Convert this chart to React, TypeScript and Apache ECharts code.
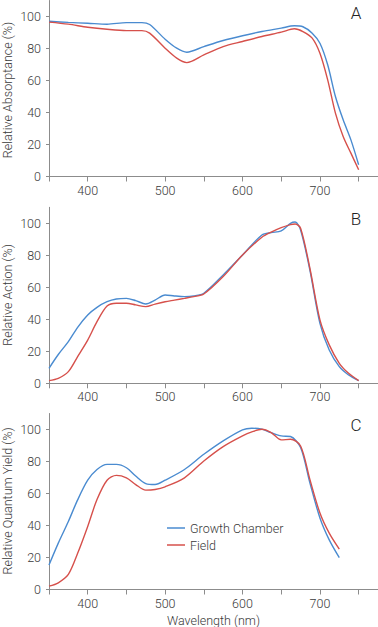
import React, { useEffect, useRef } from "react";
import * as echarts from "echarts";

const absWl = [350, 375, 400, 425, 450, 470, 480, 500, 515, 528, 550, 575, 600, 625, 650, 667, 678, 690, 700, 710, 720, 730, 740, 750];
const absGrowth = [97, 96.3, 95.8, 95.2, 96.2, 96.2, 95, 85.8, 80.2, 77.7, 81.2, 85, 88, 90.6, 92.7, 94.2, 93.6, 89.6, 83.3, 69.8, 50, 35.4, 22.9, 7.3];
const absField = [96.5, 95.2, 93.3, 92, 91.2, 91.2, 89.6, 80.2, 74, 71.2, 76, 81.2, 84.4, 87.5, 90.2, 92.3, 90.6, 86.5, 77, 60.4, 39.6, 25, 14.6, 4.2];

const actWl = [350, 362, 375, 387, 400, 412, 425, 437, 450, 462, 475, 487, 500, 512, 525, 537, 550, 575, 600, 625, 637, 650, 662, 668, 675, 687, 700, 712, 725, 737, 750];
const actGrowth = [9.4, 18, 26, 35, 42.7, 47.5, 51, 52.7, 53.1, 51.7, 49.6, 52, 55.2, 54.6, 54.2, 54.6, 56.3, 67.7, 80.2, 92.7, 94.2, 95.2, 100, 100.8, 95.8, 70.8, 37.5, 20.8, 10.4, 5.2, 1.7];
const actField = [1.7, 3.1, 7.3, 16.7, 27, 38.5, 48.3, 50, 50, 49, 47.9, 49.5, 51, 52, 53.1, 54.2, 55.8, 66.7, 80.2, 91.3, 94.5, 97.3, 99.2, 99.6, 96.9, 71.9, 39.6, 24, 12.5, 6.25, 1.7];

const qyWl = [350, 362, 375, 387, 400, 412, 425, 437, 450, 462, 475, 487, 500, 525, 550, 575, 600, 612, 625, 637, 650, 662, 675, 687, 700, 712, 725];
const qyGrowth = [15.3, 29, 42.5, 56, 68.3, 75, 78.2, 78.2, 76.1, 70.9, 66.2, 65.6, 68.3, 75, 84.5, 92.9, 99.8, 100.8, 100.2, 98, 96, 95.6, 88.7, 66.7, 44.7, 31, 19.9];
const qyField = [2.1, 4.2, 9.4, 22.6, 39.4, 56.2, 68.3, 71.3, 69.8, 65.6, 62.1, 62.5, 64.2, 69.8, 80.3, 89.3, 96, 98.5, 100.2, 98.1, 93.5, 93.9, 89.7, 68.8, 47.8, 35.2, 25.2];

const yNames = ["Relative Absorptance (%)", "Relative Action (%)", "Relative Quantum Yield (%)"];
const panelLetters = ["A", "B", "C"];
const seriesNames = ["Growth Chamber", "Field"];

const BLUE = "#4a8bd0";
const RED = "#d6504b";
const FONT = "Roboto";
const TXT = "#3a3a3a";

function pairs(x: number[], y: number[]) {
  return x.map((v, i) => [v, y[i]]);
}

export default function App() {
  const ref = useRef<HTMLDivElement>(null);
  useEffect(() => {
    if (!ref.current) return;
    const chart = echarts.init(ref.current, undefined, { renderer: "svg" });
    const tops = [0.5, 207.3, 413.5];
    const grids = tops.map((t) => ({ left: 49, right: 0, top: t, height: 176, containLabel: false, outerBoundsMode: "none" }));
    const xAxes = tops.map((_, i) => ({
      type: "value",
      gridIndex: i,
      min: 350,
      max: 775,
      interval: 50,
      name: i === 2 ? "Wavelength (nm)" : "",
      nameLocation: "middle",
      nameGap: 24,
      nameTextStyle: { fontFamily: FONT, fontWeight: 300, fontSize: 12.5, color: TXT },
      axisLine: { lineStyle: { color: "#8c8c8c", width: 1 } },
      axisTick: { length: 5, lineStyle: { color: "#8c8c8c" } },
      axisLabel: {
        margin: 7,
        fontFamily: FONT,
        fontWeight: 300,
        fontSize: 12.5,
        color: TXT,
        formatter: (v: number) => (v % 100 === 0 && v >= 400 && v <= 700 ? String(v) : ""),
      },
      splitLine: { show: false },
    }));
    const yAxes = tops.map((_, i) => ({
      type: "value",
      gridIndex: i,
      min: 0,
      max: 110,
      interval: 20,
      axisLine: { show: true, lineStyle: { color: "#8c8c8c", width: 1 } },
      axisTick: { show: true, length: 3, lineStyle: { color: "#8c8c8c" }, customValues: [0, 20, 40, 60, 80, 100] },
      axisLabel: {
        margin: 8,
        fontFamily: FONT,
        fontWeight: 300,
        fontSize: 12.5,
        color: TXT,
        formatter: (v: number) => (v <= 100 ? String(v) : ""),
      },
      splitLine: { show: false },
    }));
    const data = [
      [absWl, absGrowth, absField],
      [actWl, actGrowth, actField],
      [qyWl, qyGrowth, qyField],
    ];
    const series: any[] = [];
    data.forEach(([wl, g, f], i) => {
      [g, f].forEach((vals, k) => {
        series.push({
          type: "line",
          name: seriesNames[k],
          xAxisIndex: i,
          yAxisIndex: i,
          data: pairs(wl, vals),
          smooth: 0.3,
          symbol: "none",
          lineStyle: { color: k === 0 ? BLUE : RED, width: 1.4 },
          itemStyle: { color: k === 0 ? BLUE : RED },
        });
      });
    });
    const letterY = [13, 219, 425];
    const nameY = [90, 295, 501];
    const letters = panelLetters.map((l, i) => ({
      type: "text",
      x: 356,
      y: letterY[i],
      style: {
        text: l,
        font: `300 17px "${FONT}"`,
        fill: "#222",
        align: "center",
        verticalAlign: "middle",
      },
    }));
    const names = yNames.map((n, i) => ({
      type: "text",
      x: 7,
      y: nameY[i],
      rotation: Math.PI / 2,
      style: {
        text: n,
        font: `300 12.5px "${FONT}"`,
        fill: TXT,
        align: "center",
        verticalAlign: "middle",
      },
    }));
    chart.setOption({
      animation: false,
      grid: grids,
      xAxis: xAxes,
      yAxis: yAxes,
      series,
      legend: {
        data: seriesNames,
        orient: "vertical",
        left: 162,
        top: 516,
        itemWidth: 18,
        itemHeight: 1.5,
        itemGap: 3,
        icon: "rect",
        textStyle: { fontFamily: FONT, fontWeight: 300, fontSize: 12.5, color: TXT, lineHeight: 14 },
      },
      graphic: [...letters, ...names],
    });
    return () => chart.dispose();
  }, []);
  return <div ref={ref} style={{ position: "absolute", left: 0, top: 0, width: 378, height: 627 }} />;
}
